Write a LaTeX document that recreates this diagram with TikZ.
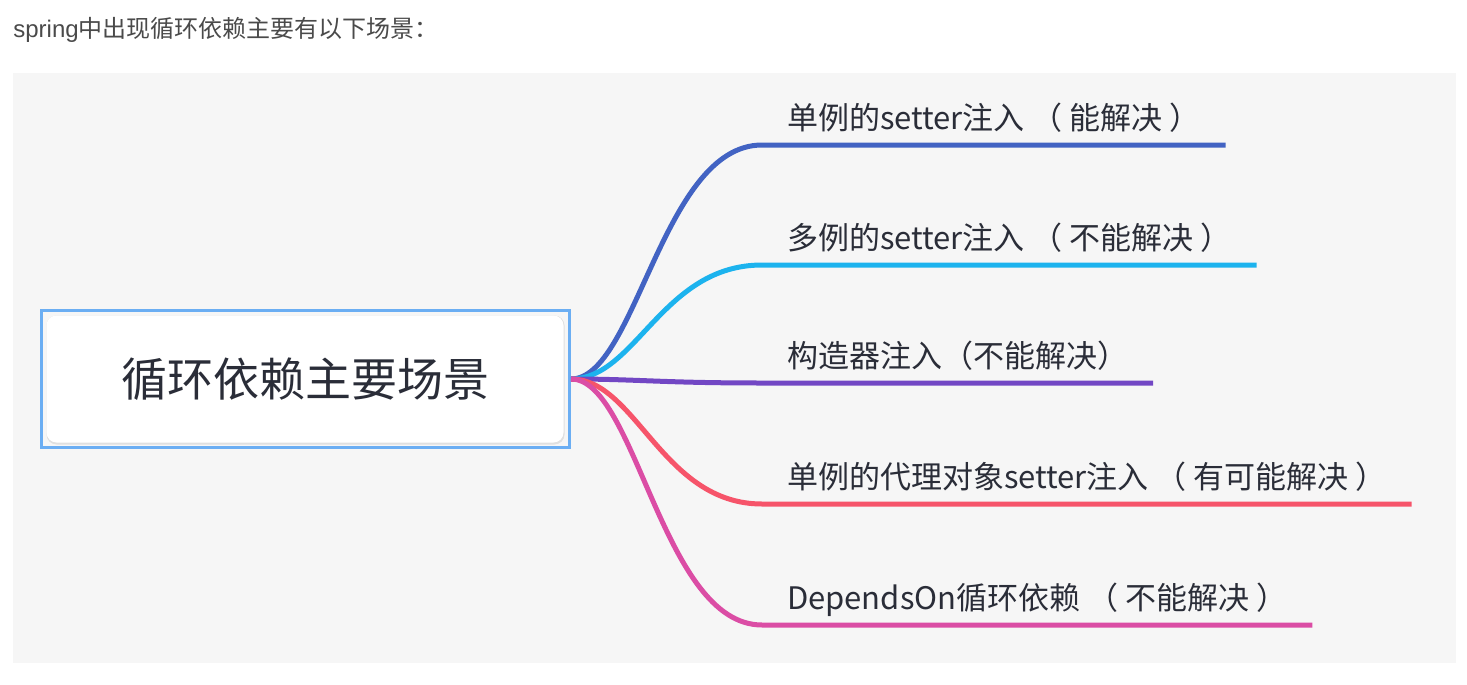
\documentclass[tikz,border=0pt]{standalone}
\usepackage{fontspec}
\setmainfont{Noto Sans CJK SC}
\newfontfamily\latinhdr{Liberation Sans}
\newfontfamily\parfont{Noto Sans CJK TC}
\newcommand{\lpz}{{\parfont （}}
\newcommand{\rpz}{{\parfont ）}}
\definecolor{panelgray}{HTML}{F6F6F6}
\definecolor{hdrink}{HTML}{4A4A4A}
\definecolor{labelink}{HTML}{2A2D38}
\definecolor{rootblue}{HTML}{6BAEF3}
\definecolor{brblue}{HTML}{4263C3}
\definecolor{brcyan}{HTML}{1CB3EE}
\definecolor{brpurple}{HTML}{7247C4}
\definecolor{brred}{HTML}{F6546A}
\definecolor{brpink}{HTML}{DB4DA5}
\tikzset{
  leaf/.style={anchor=south west, inner xsep=12.5pt, inner ysep=0pt, outer sep=0pt,
    text depth=8pt, text=labelink, font=\fontsize{15.5pt}{18pt}\selectfont},
  branch/.style={line width=2.5pt},
}
\begin{document}
\begin{tikzpicture}[x=0.5pt,y=-0.5pt]
        \useasboundingbox (0,0) rectangle (1467,685);
        \fill [panelgray] (13,73) rectangle (1456,663);
        \node [anchor=base west, inner sep=0pt, text=hdrink, font=\fontsize{12pt}{14pt}\selectfont] (hdr) at (13,38) {{\latinhdr spring}中出现循环依赖主要有以下场景：};
        \node [draw=rootblue, line width=1.5pt, minimum width=264pt, minimum height=68.5pt, inner sep=0pt,
          text=labelink, font=\fontsize{23pt}{28pt}\selectfont,
          path picture={
            \fill [black!12, rounded corners=5pt] ([shift={(2.5pt,-2.5pt)}]path picture bounding box.north west) rectangle ([shift={(-2.5pt,1.5pt)}]path picture bounding box.south east);
            \fill [white, rounded corners=5pt] ([shift={(2.5pt,-2.5pt)}]path picture bounding box.north west) rectangle ([shift={(-3pt,2.5pt)}]path picture bounding box.south east);
          }] (root) at (305.5,379) {循环依赖主要场景};
        \node [leaf] (b1) at (762,145) {单例的setter注入 \lpz{} 能解决 \rpz};
        \node [leaf] (b2) at (762,265) {多例的setter注入 \lpz{} 不能解决 \rpz};
        \node [leaf] (b3) at (762,383) {构造器注入\lpz 不能解决\rpz};
        \node [leaf] (b4) at (762,504) {单例的代理对象setter注入 \lpz{} 有可能解决 \rpz};
        \node [leaf] (b5) at (762,625) {DependsOn循环依赖 \lpz{} 不能解决 \rpz};
        \foreach \n/\c in {b1/brblue,b2/brcyan,b3/brpurple,b4/brred,b5/brpink}
          \draw [branch,\c] (root.east) .. controls +(65,0) and +(-100,0) .. (\n.south west) -- (\n.south east);
    \end{tikzpicture}
\end{document}
